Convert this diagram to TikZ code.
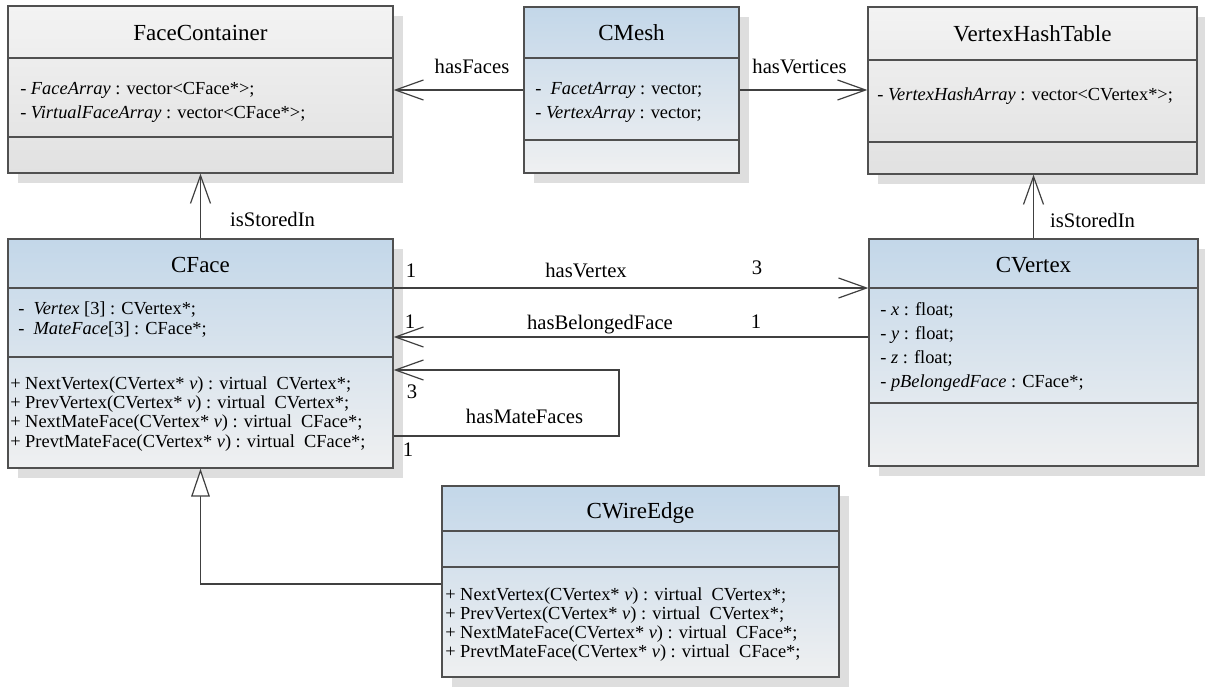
\documentclass[tikz,border=0pt]{standalone}
\usepackage{fontspec}
\setmainfont{Liberation Serif}
\usetikzlibrary{arrows.meta,fit}
\definecolor{bordercol}{HTML}{505050}
\definecolor{linecol}{HTML}{404040}
\definecolor{shadowcol}{HTML}{DEDEDE}
\definecolor{greytop}{HTML}{F3F3F3}
\definecolor{greybot}{HTML}{E1E1E1}
\definecolor{bluetop}{HTML}{C3D7E9}
\definecolor{bluebot}{HTML}{EFF0F1}
\tikzset{
  greybox/.style={top color=greytop, bottom color=greybot},
  bluebox/.style={top color=bluetop, bottom color=bluebot},
  classframe/.style={draw=bordercol, line width=1pt, inner sep=0pt},
  sepline/.style={draw=bordercol, line width=0.9pt},
  titletext/.style={font=\fontsize{17.25}{20}\selectfont, inner sep=0pt, anchor=base},
  bodytext/.style={font=\fontsize{13.8}{16}\selectfont, inner sep=0pt, anchor=base west},
  lbltext/.style={font=\fontsize{15.5}{18}\selectfont, inner sep=0pt, anchor=base},
  assoc/.style={draw=linecol, line width=0.9pt, -{Straight Barb[length=21pt,width=15pt]}},
  gener/.style={draw=linecol, line width=0.9pt, -{Triangle[open,length=21pt,width=14pt,fill=white]}},
}
% name, x1, y1, x2, y2, sep1, sep2, fill style
\newcommand{\umlclass}[8]{%
  \fill[shadowcol] (#2+10,#3+10) rectangle (#4+10,#5+10);
  \node[classframe, #8, fit={(#2,#3) (#4,#5)}] (#1) {};
  \draw[sepline] (#2,#6) -- (#4,#6);
  \draw[sepline] (#2,#7) -- (#4,#7);
}
\begin{document}
\begin{tikzpicture}[x=0.75pt,y=-0.75pt]
\useasboundingbox (0,0) rectangle (1205,688);

% classes
\umlclass{fc}{8}{6}{393}{173}{58}{137}{greybox}
\umlclass{cmesh}{524}{7}{739}{173}{58}{140}{bluebox}
\umlclass{vht}{868}{7}{1197}{174}{60}{142}{greybox}
\umlclass{cface}{8}{239}{393}{468}{288}{357}{bluebox}
\umlclass{cvertex}{869}{239}{1198}{466}{288}{403}{bluebox}
\umlclass{cwire}{442}{486}{839}{677}{531}{567}{bluebox}

% FaceContainer texts
\node[titletext] (fc-title) at (200.5,41) {FaceContainer};
\node[bodytext] (fc-a1) at (20,95) {- \textit{FaceArray} : vector<CFace*>;};
\node[bodytext] (fc-a2) at (20,119) {- \textit{VirtualFaceArray} : vector<CFace*>;};

% CMesh texts
\node[titletext] (cmesh-title) at (631.5,41) {CMesh};
\node[bodytext] (cmesh-a1) at (535,95) {-\ \ \textit{FacetArray} : vector;};
\node[bodytext] (cmesh-a2) at (535,119) {- \textit{VertexArray} : vector;};

% VertexHashTable texts
\node[titletext] (vht-title) at (1032.5,42) {VertexHashTable};
\node[bodytext] (vht-a1) at (877,101) {- \textit{VertexHashArray} : vector<CVertex*>;};

% CFace texts
\node[titletext] (cface-title) at (200.5,272) {CFace};
\node[bodytext] (cface-a1) at (18,314) {-\ \ \textit{Vertex} [3] : CVertex*;};
\node[bodytext] (cface-a2) at (18,334) {-\ \ \textit{MateFace}[3] : CFace*;};
\node[bodytext] (cface-m1) at (10,389) {+ NextVertex(CVertex* \textit{v}) : virtual\ \ CVertex*;};
\node[bodytext] (cface-m2) at (10,408) {+ PrevVertex(CVertex* \textit{v}) : virtual\ \ CVertex*;};
\node[bodytext] (cface-m3) at (10,427) {+ NextMateFace(CVertex* \textit{v}) : virtual\ \ CFace*;};
\node[bodytext] (cface-m4) at (10,447) {+ PrevtMateFace(CVertex* \textit{v}) : virtual\ \ CFace*;};

% CVertex texts
\node[titletext] (cvertex-title) at (1033.5,272) {CVertex};
\node[bodytext] (cvertex-a1) at (880,315) {- \textit{x} : float;};
\node[bodytext] (cvertex-a2) at (880,339) {- \textit{y} : float;};
\node[bodytext] (cvertex-a3) at (880,363) {- \textit{z} : float;};
\node[bodytext] (cvertex-a4) at (880,387) {- \textit{pBelongedFace} : CFace*;};

% CWireEdge texts
\node[titletext] (cwire-title) at (640.5,518) {CWireEdge};
\node[bodytext] (cwire-m1) at (445,600) {+ NextVertex(CVertex* \textit{v}) : virtual\ \ CVertex*;};
\node[bodytext] (cwire-m2) at (445,619) {+ PrevVertex(CVertex* \textit{v}) : virtual\ \ CVertex*;};
\node[bodytext] (cwire-m3) at (445,638) {+ NextMateFace(CVertex* \textit{v}) : virtual\ \ CFace*;};
\node[bodytext] (cwire-m4) at (445,657) {+ PrevtMateFace(CVertex* \textit{v}) : virtual\ \ CFace*;};

% connectors
\draw[assoc] (cmesh.west) -- (cmesh.west -| fc.east);
\draw[assoc] (cmesh.east) -- (cmesh.east -| vht.west);
\draw[assoc] (cface.north) -- (cface.north |- fc.south);
\draw[assoc] (cvertex.north) -- (cvertex.north |- vht.south);
\draw[assoc] (cface.east |- 0,288) -- (cvertex.west |- 0,288);
\draw[assoc] (cvertex.west |- 0,337) -- (cface.east |- 0,337);
\coordinate (loopc) at (619,370);
\draw[assoc] (cface.east |- 0,436) -| (loopc) -- (cface.east |- loopc);
\draw[gener] (cwire.west |- 0,584) -| (cface.south);

% labels
\node[lbltext] (l-hasfaces) at (472,74) {hasFaces};
\node[lbltext] (l-hasvertices) at (799.5,74) {hasVertices};
\node[lbltext] (l-stored1) at (272.5,226) {isStoredIn};
\node[lbltext] (l-stored2) at (1092.5,227) {isStoredIn};
\node[lbltext] (l-hasvertex) at (586,277) {hasVertex};
\node[lbltext] (m-hv1) at (411,277) {1};
\node[lbltext] (m-hv3) at (757,274) {3};
\node[lbltext] (l-hasbelong) at (600,329) {hasBelongedFace};
\node[lbltext] (m-hb1a) at (410,328) {1};
\node[lbltext] (m-hb1b) at (756,328) {1};
\node[lbltext] (m-hm3) at (412,398) {3};
\node[lbltext] (l-hasmate) at (524.5,423) {hasMateFaces};
\node[lbltext] (m-hm1) at (408,456) {1};
\end{tikzpicture}
\end{document}
